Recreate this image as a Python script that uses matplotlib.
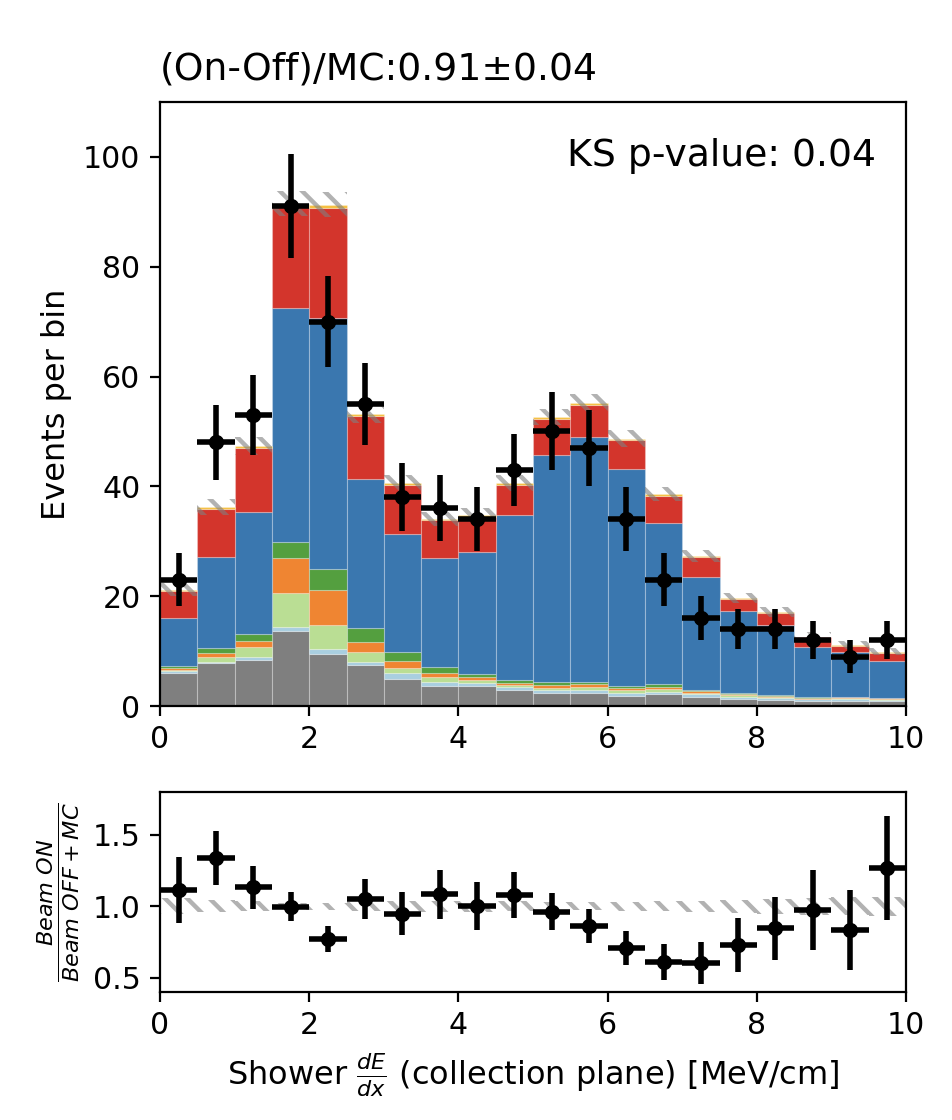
import numpy as np
import matplotlib
matplotlib.use("Agg")
import matplotlib.pyplot as plt

plt.rcParams['hatch.linewidth'] = 1.6
plt.rcParams['xtick.labelsize'] = 10.8
plt.rcParams['ytick.labelsize'] = 10.8

bin_edges = np.arange(0, 10.5, 0.5)
bin_centers = (bin_edges[:-1] + bin_edges[1:]) / 2

# stacked MC components (bottom -> top), events per bin
comp_gray   = [6.1, 7.8, 8.3, 13.6, 9.5, 7.4, 4.9, 3.65, 3.7, 2.9, 2.4, 2.4, 1.8, 2.1, 1.7, 1.3, 1.1, 0.97, 0.97, 0.97]
comp_lblue  = [0.2, 0.2, 0.6, 0.8, 0.9, 0.7, 1.1, 0.75, 0.55, 0.5, 0.5, 0.6, 0.6, 0.5, 0.4, 0.4, 0.36, 0.23, 0.33, 0.18]
comp_lgreen = [0.3, 1.0, 1.9, 6.2, 4.3, 1.7, 1.0, 0.8, 0.45, 0.4, 0.4, 0.5, 0.5, 0.5, 0.3, 0.25, 0.24, 0.13, 0.1, 0.13]
comp_orange = [0.4, 0.7, 1.1, 6.4, 6.4, 1.8, 1.2, 0.8, 0.6, 0.45, 0.6, 0.5, 0.4, 0.4, 0.3, 0.25, 0.1, 0.17, 0.15, 0.12]
comp_green  = [0.3, 0.8, 1.3, 2.9, 3.8, 2.6, 1.7, 1.1, 0.6, 0.45, 0.5, 0.4, 0.35, 0.5, 0.2, 0.2, 0.26, 0.14, 0.15, 0.1]
comp_blue   = [8.8, 16.7, 22.1, 42.5, 45.8, 27.2, 21.5, 19.8, 22.1, 30.0, 41.3, 44.6, 39.55, 29.3, 20.6, 14.9, 12.74, 9.16, 8.2, 6.7]
comp_red    = [4.9, 8.7, 11.7, 18.4, 20.0, 11.5, 8.9, 6.9, 6.5, 5.6, 6.6, 5.9, 5.2, 5.0, 3.6, 2.2, 2.1, 1.7, 1.1, 1.5]
comp_yellow = [0.2, 0.3, 0.3, 0.7, 0.6, 0.3, 0.3, 0.2, 0.2, 0.3, 0.3, 0.3, 0.3, 0.3, 0.2, 0.2, 0.2, 0.15, 0.15, 0.15]

comp_colors = ['#7f7f7f', '#a9cfe0', '#bade94', '#ef8532', '#549f3f', '#3a77af', '#d3352c', '#f5c040']

# MC statistical uncertainty (absolute)
mc_err = [1.2, 1.5, 1.6, 2.3, 2.3, 1.7, 1.4, 1.3, 1.3, 1.4, 1.5, 1.6, 1.5, 1.3, 1.1, 0.9, 0.9, 0.75, 0.7, 0.65]

# On-Off data
data_vals = [23, 48, 53, 91, 70, 55, 38, 36, 34, 43, 50, 47, 34, 23, 16, 14, 14, 12, 9, 12]
data_err  = [4.8, 6.9, 7.3, 9.5, 8.3, 7.4, 6.2, 6.0, 5.8, 6.5, 7.1, 6.9, 5.8, 4.8, 4.0, 3.7, 3.7, 3.5, 3.0, 3.5]

# ratio panel
ratio_vals = [1.113, 1.338, 1.132, 0.998, 0.771, 1.049, 0.949, 1.083, 1.002, 1.079,
              0.963, 0.863, 0.708, 0.609, 0.602, 0.731, 0.847, 0.972, 0.836, 1.269]
ratio_err  = [0.23, 0.19, 0.15, 0.10, 0.09, 0.14, 0.15, 0.17, 0.17, 0.16,
              0.13, 0.12, 0.12, 0.125, 0.147, 0.19, 0.22, 0.28, 0.28, 0.365]

title_text = "(On-Off)/MC:0.91\u00b10.04"
ks_text = "KS p-value: 0.04"

fig = plt.figure(figsize=(4.76, 5.6), dpi=200)
ax = fig.add_axes([160/952, 1-706/1120, (906-160)/952, (706-102)/1120])
axr = fig.add_axes([160/952, 1-992/1120, (906-160)/952, (992-792)/1120])

width = 0.5
bottom = np.zeros(len(bin_centers))
comps = [comp_gray, comp_lblue, comp_lgreen, comp_orange, comp_green, comp_blue, comp_red, comp_yellow]
for vals, col in zip(comps, comp_colors):
    vals = np.asarray(vals)
    ax.bar(bin_centers, vals, width=width, bottom=bottom, color=col,
           edgecolor=(1, 1, 1, 0.25), linewidth=0.4)
    bottom = bottom + vals
total = bottom

mc_err = np.asarray(mc_err)
ax.bar(bin_centers, 2*mc_err, width=width, bottom=total - mc_err, facecolor='none',
       edgecolor='gray', hatch='\\\\\\', linewidth=0, alpha=0.6)

ax.errorbar(bin_centers, data_vals, xerr=width/2, yerr=data_err, fmt='o', color='k',
            markersize=4.5, elinewidth=2, capsize=0)

ax.set_xlim(0, 10)
ax.set_ylim(0, 110)
ax.set_yticks([0, 20, 40, 60, 80, 100])
ax.set_xticks([0, 2, 4, 6, 8, 10])
ax.set_ylabel("Events per bin", fontsize=11.5)
ax.set_title(title_text, loc='left', fontsize=13.6, pad=8)
ax.text(0.96, 0.94, ks_text, transform=ax.transAxes, ha='right', va='top', fontsize=13.6)

rel = mc_err / total
axr.bar(bin_centers, 2*rel, width=width, bottom=1 - rel, facecolor='none',
        edgecolor='gray', hatch='\\\\\\', linewidth=0, alpha=0.6)
axr.errorbar(bin_centers, ratio_vals, xerr=width/2, yerr=ratio_err, fmt='o', color='k',
             markersize=4.5, elinewidth=2, capsize=0)
axr.set_xlim(0, 10)
axr.set_ylim(0.4, 1.8)
axr.set_yticks([0.5, 1.0, 1.5])
axr.set_xticks([0, 2, 4, 6, 8, 10])
axr.set_ylabel(r"$\frac{Beam\ ON}{Beam\ OFF + MC}$", fontsize=11.5)
axr.set_xlabel(r"Shower $\frac{dE}{dx}$ (collection plane) [MeV/cm]", fontsize=11.5)

fig.savefig("out.png", dpi=200)
